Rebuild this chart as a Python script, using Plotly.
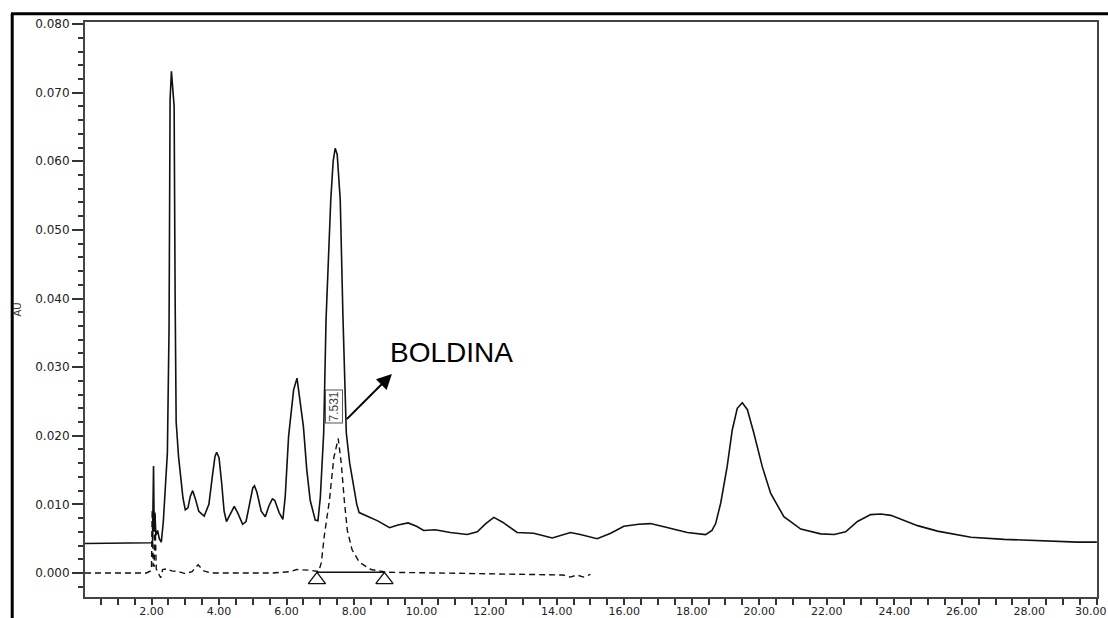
import plotly.graph_objects as go

# Sample chromatogram (solid trace): (retention time [min], absorbance [AU])
sample_points = [
    (0.03, 0.0043), (1.20, 0.0043), (1.35, 0.0044), (1.45, 0.0043), (1.90, 0.0043),
    (1.98, 0.0044), (2.00, 0.0044), (2.03, 0.0045), (2.04, 0.0092), (2.05, 0.0050),
    (2.06, 0.0156), (2.08, 0.0060), (2.10, 0.0088), (2.13, 0.0055), (2.18, 0.0062),
    (2.23, 0.0050), (2.29, 0.0045), (2.35, 0.0075), (2.40, 0.0120), (2.47, 0.0175),
    (2.52, 0.0360), (2.55, 0.0690), (2.59, 0.0731), (2.63, 0.0700), (2.67, 0.0680),
    (2.70, 0.0400), (2.73, 0.0220), (2.80, 0.0170), (2.85, 0.0146), (2.93, 0.0110),
    (3.00, 0.0092), (3.08, 0.0095), (3.15, 0.0112), (3.22, 0.0120), (3.30, 0.0108),
    (3.40, 0.0090), (3.56, 0.0083), (3.70, 0.0100), (3.80, 0.0140), (3.88, 0.0170),
    (3.93, 0.0176), (4.00, 0.0168), (4.08, 0.0130), (4.15, 0.0090), (4.22, 0.0075),
    (4.32, 0.0085), (4.45, 0.0097), (4.55, 0.0088), (4.70, 0.0071), (4.80, 0.0075),
    (4.90, 0.0100), (5.00, 0.0124), (5.05, 0.0127), (5.12, 0.0118), (5.25, 0.0090),
    (5.37, 0.0082), (5.48, 0.0098), (5.58, 0.0108), (5.65, 0.0106), (5.78, 0.0088),
    (5.89, 0.0078), (5.96, 0.0111), (6.06, 0.0199), (6.21, 0.0267), (6.31, 0.0284),
    (6.41, 0.0248), (6.50, 0.0213), (6.60, 0.0150), (6.70, 0.0106), (6.85, 0.0077),
    (6.93, 0.0076), (7.00, 0.0110), (7.05, 0.0160), (7.10, 0.0204), (7.17, 0.0370),
    (7.25, 0.0480), (7.31, 0.0544), (7.38, 0.0600), (7.44, 0.0619), (7.50, 0.0610),
    (7.55, 0.0575), (7.59, 0.0544), (7.67, 0.0374), (7.77, 0.0204), (7.87, 0.0160),
    (7.98, 0.0131), (8.08, 0.0100), (8.15, 0.0088), (8.40, 0.0082), (8.70, 0.0076),
    (9.05, 0.0066), (9.30, 0.0070), (9.60, 0.0073), (9.85, 0.0068), (10.06, 0.0062),
    (10.40, 0.0063), (10.85, 0.0059), (11.35, 0.0056), (11.65, 0.0060), (11.90, 0.0072),
    (12.14, 0.0081), (12.40, 0.0074), (12.83, 0.0059), (13.32, 0.0058), (13.87, 0.0051),
    (14.10, 0.0054), (14.41, 0.0059), (14.70, 0.0056), (15.20, 0.0050), (15.60, 0.0058),
    (15.99, 0.0068), (16.43, 0.0071), (16.78, 0.0072), (17.30, 0.0066), (17.87, 0.0059),
    (18.41, 0.0056), (18.60, 0.0062), (18.71, 0.0072), (18.86, 0.0102), (19.05, 0.0155),
    (19.20, 0.0208), (19.35, 0.0240), (19.50, 0.0248), (19.65, 0.0238), (19.84, 0.0204),
    (20.09, 0.0155), (20.34, 0.0116), (20.73, 0.0082), (21.23, 0.0064), (21.82, 0.0057),
    (22.22, 0.0056), (22.56, 0.0060), (22.91, 0.0075), (23.30, 0.0085), (23.60, 0.0086),
    (23.90, 0.0084), (24.69, 0.0069), (25.28, 0.0061), (26.27, 0.0052), (27.26, 0.0049),
    (28.14, 0.0047), (29.43, 0.0045), (30.00, 0.0045),
]

# Boldine reference standard (dashed trace)
standard_points = [
    (0.03, 0.0000), (1.85, 0.0000), (1.97, 0.0003), (2.00, 0.0010), (2.02, 0.0092),
    (2.05, 0.0010), (2.08, 0.0010), (2.10, 0.0088), (2.14, 0.0006), (2.27, -0.0007),
    (2.33, 0.0005), (2.45, 0.0006), (2.60, 0.0003), (2.80, 0.0002), (3.00, -0.0001),
    (3.20, 0.0002), (3.38, 0.0012), (3.55, 0.0003), (3.75, 0.0000), (5.00, 0.0000),
    (5.30, 0.0001), (5.60, 0.0000), (6.10, 0.0002), (6.30, 0.0005), (6.70, 0.0004),
    (6.95, 0.0002), (7.03, 0.0015), (7.12, 0.0055), (7.27, 0.0106), (7.40, 0.0168),
    (7.531, 0.0196), (7.62, 0.0160), (7.71, 0.0106), (7.80, 0.0062), (7.94, 0.0034),
    (8.15, 0.0016), (8.50, 0.0005), (9.00, 0.0001), (10.50, 0.0000), (12.00, -0.0001),
    (13.50, -0.0002), (14.20, -0.0003), (14.40, -0.0006), (14.60, -0.0003), (14.80, -0.0006),
    (15.00, -0.0002),
]

peak_rt = 7.531
peak_name = "BOLDINA"
integration_bounds = [6.90, 8.90]
integration_level = 0.0001

x_tick_values = [2, 4, 6, 8, 10, 12, 14, 16, 18, 20, 22, 24, 26, 28, 30]
x_tick_labels = [f"{v:.2f}" for v in x_tick_values]
y_tick_values = [0.0, 0.01, 0.02, 0.03, 0.04, 0.05, 0.06, 0.07, 0.08]
y_tick_labels = [f"{v:.3f}" for v in y_tick_values]

sample_t = [p[0] for p in sample_points]
sample_au = [p[1] for p in sample_points]
std_t = [p[0] for p in standard_points]
std_au = [p[1] for p in standard_points]

fig = go.Figure()

fig.add_trace(go.Scatter(
    x=std_t, y=std_au, mode="lines",
    line=dict(color="#111111", width=1.4, dash="6px,4px"),
    hoverinfo="skip", showlegend=False,
))

fig.add_trace(go.Scatter(
    x=sample_t, y=sample_au, mode="lines",
    line=dict(color="#111111", width=1.6),
    hoverinfo="skip", showlegend=False,
))

# integration baseline with its start/end markers
fig.add_trace(go.Scatter(
    x=integration_bounds, y=[integration_level] * 2, mode="lines",
    line=dict(color="#111111", width=1.4),
    hoverinfo="skip", showlegend=False,
))
fig.add_trace(go.Scatter(
    x=integration_bounds, y=[integration_level - 0.0011] * 2, mode="markers",
    marker=dict(symbol="triangle-up-open", size=15, color="#111111",
                line=dict(width=1.3, color="#111111")),
    hoverinfo="skip", showlegend=False,
))

# retention-time label
fig.add_annotation(
    x=peak_rt, y=0.0243, xref="x", yref="y", xshift=-4,
    text=f"{peak_rt:.3f}", textangle=-90, showarrow=False,
    font=dict(family="Liberation Sans, Arial", size=12, color="#444444"),
    bordercolor="#555555", borderwidth=1, borderpad=1,
)

# arrow pointing from the peak to the compound name
fig.add_annotation(
    x=9.12, y=0.0290, ax=7.74, ay=0.0222, xref="x", yref="y",
    axref="x", ayref="y", text="", showarrow=True,
    arrowhead=2, arrowsize=1.5, arrowwidth=2, arrowcolor="#000000",
)
fig.add_annotation(
    x=9.01, y=0.0321, xref="x", yref="y", xanchor="left", yanchor="middle",
    text=peak_name, showarrow=False,
    font=dict(family="Liberation Sans, Arial", size=28, color="#000000"),
)

# y-axis title
fig.add_annotation(
    x=(17 - 85) / 1012, y=0.50, xref="paper", yref="paper",
    xanchor="center", yanchor="middle",
    text="AU", textangle=-90, showarrow=False,
    font=dict(family="DejaVu Sans", size=10, color="#333333"),
)

# outer frame lines (top and left)
frame = dict(color="#000000", width=3)
fig.add_shape(type="line", xref="paper", yref="paper",
              x0=(11 - 85) / 1012, x1=(1108 - 85) / 1012,
              y0=(597 - 13.8) / 575, y1=(597 - 13.8) / 575, line=frame)
fig.add_shape(type="line", xref="paper", yref="paper",
              x0=(12.2 - 85) / 1012, x1=(12.2 - 85) / 1012,
              y0=-0.05, y1=(597 - 13.8) / 575, line=frame)

x_font = dict(family="DejaVu Sans", size=11, color="#222222")

# the last time label sits at the right page edge, so it is right-aligned there
fig.add_annotation(
    x=x_tick_values[-1], y=0, xref="x", yref="paper",
    xanchor="right", yanchor="top", xshift=11, yshift=-7,
    text=x_tick_labels[-1], showarrow=False, font=x_font,
    borderpad=0,
)
axis_labels = x_tick_labels[:-1] + [""]

fig.update_xaxes(
    range=[0.03, 30.005], automargin=False,
    tickmode="array", tickvals=x_tick_values, ticktext=axis_labels,
    ticks="outside", ticklen=6, tickwidth=1.5, tickcolor="#333333",
    minor=dict(dtick=0.5, ticks="outside", ticklen=6, tickwidth=1.5, tickcolor="#333333"),
    showline=True, linecolor="#444444", linewidth=2, mirror=True,
    showgrid=False, zeroline=False,
    tickfont=x_font,
    ticklabeloverflow="allow", ticklabelstandoff=-3,
)
fig.update_yaxes(
    range=[-0.0035, 0.0803], automargin=False,
    tickmode="array", tickvals=y_tick_values, ticktext=y_tick_labels,
    ticks="outside", ticklen=11, tickwidth=1.5, tickcolor="#333333",
    minor=dict(dtick=0.002, ticks="outside", ticklen=5, tickwidth=1.5, tickcolor="#333333"),
    showline=True, linecolor="#444444", linewidth=2, mirror=True,
    showgrid=False, zeroline=False,
    tickfont=dict(family="DejaVu Sans", size=12, color="#222222"),
    ticklabeloverflow="allow",
)

fig.update_layout(
    width=1108, height=618,
    margin=dict(l=85, r=11, t=22, b=21, pad=0, autoexpand=False),
    paper_bgcolor="#ffffff", plot_bgcolor="#ffffff",
    showlegend=False,
)

fig.write_html("out.html", include_plotlyjs=True, config={"displayModeBar": False})
